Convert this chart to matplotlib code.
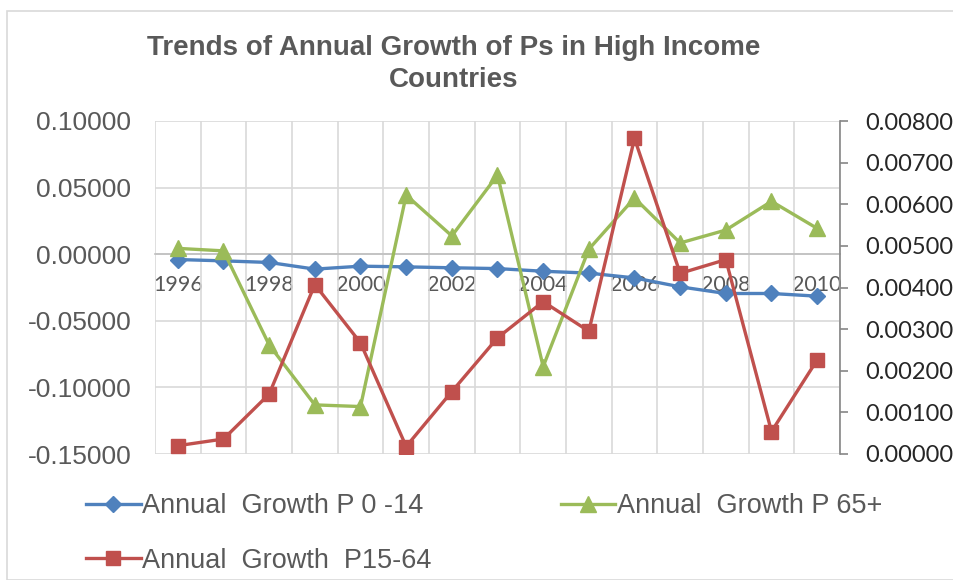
import numpy as np
import matplotlib
matplotlib.use("Agg")
import matplotlib.pyplot as plt
from matplotlib.patches import Rectangle

years = [str(y) for y in range(1996, 2011)]

# growth of ages 0-14 (primary axis)
growth_0_14 = [-0.0040, -0.0050, -0.0062, -0.0112, -0.0090, -0.0095, -0.0102, -0.0108,
               -0.0128, -0.0142, -0.0178, -0.0245, -0.0295, -0.0295, -0.0315]
# growth of ages 15-64 (secondary axis)
growth_15_64 = [0.00020, 0.00036, 0.00144, 0.00407, 0.00267, 0.00018, 0.00150, 0.00279,
                0.00366, 0.00295, 0.00758, 0.00434, 0.00467, 0.00054, 0.00226]
# growth of ages 65+ (secondary axis)
growth_65 = [0.00494, 0.00488, 0.00262, 0.00118, 0.00114, 0.00622, 0.00524, 0.00670,
             0.00210, 0.00492, 0.00615, 0.00507, 0.00538, 0.00607, 0.00542]

left_ticks = [-0.15, -0.10, -0.05, 0.0, 0.05, 0.10]
right_ticks = [0.000, 0.001, 0.002, 0.003, 0.004, 0.005, 0.006, 0.007, 0.008]

BLUE = '#4F81BD'
RED = '#C0504D'
GREEN = '#9BBB59'
TXT = '#595959'
GRID = '#D9D9D9'

W, H = 954, 580
fig = plt.figure(figsize=(W / 100, H / 100), dpi=100)

# chart frame
fig.patches.append(Rectangle((7 / W, 0), 1.0, 1 - 11 / H, transform=fig.transFigure,
                             fill=False, edgecolor=GRID, linewidth=1.2))

ax = fig.add_axes([155 / W, 1 - 454 / H, (840 - 155) / W, (454 - 121) / H])
x = np.arange(len(years))

ax.plot(x, growth_0_14, color=BLUE, lw=2.4, marker='D', ms=8, zorder=3,
        label='Annual  Growth P 0 -14')
ax.set_ylim(-0.15, 0.10)
ax.set_xlim(-0.5, len(years) - 0.5)
ax.set_yticks(left_ticks)
ax.set_yticklabels(['%.5f' % v for v in left_ticks])
ax.tick_params(axis='y', length=0, pad=17, labelsize=19, labelcolor=TXT,
               labelfontfamily='Liberation Sans')

# categories labelled every second year, grid between categories
ax.set_xticks(x[::2])
ax.set_xticklabels(years[::2])
ax.set_xticks(np.arange(-0.5, len(years)), minor=True)
ax.tick_params(axis='x', which='both', length=0, pad=15, labelsize=15.5,
               labelcolor=TXT, labelfontfamily='Lato')
ax.grid(True, which='minor', axis='x', color=GRID, lw=1.2)
ax.grid(True, which='major', axis='y', color=GRID, lw=1.2)
ax.set_axisbelow(True)

for s in ['top', 'right', 'left']:
    ax.spines[s].set_visible(False)
ax.spines['bottom'].set_position(('data', 0))
ax.spines['bottom'].set_color('#BFBFBF')
ax.spines['bottom'].set_linewidth(1.2)

ax2 = ax.twinx()
ax2.plot(x, growth_65, color=GREEN, lw=2.4, marker='^', ms=11, zorder=3,
         label='Annual  Growth P 65+')
ax2.plot(x, growth_15_64, color=RED, lw=2.4, marker='s', ms=10, zorder=4,
         label='Annual  Growth  P15-64')
ax2.set_ylim(0, 0.008)
ax2.set_yticks(right_ticks)
ax2.set_yticklabels(['%.5f' % v for v in right_ticks])
ax2.tick_params(axis='y', length=6, width=1.2, color='#868686', pad=12,
                labelsize=17, labelcolor='#262626', labelfontfamily='Lato')
for s in ['top', 'left', 'bottom']:
    ax2.spines[s].set_visible(False)
ax2.spines['right'].set_color('#868686')
ax2.spines['right'].set_linewidth(1.2)

fig.text(454 / W, 1 - 64 / H, 'Trends of Annual Growth of Ps in High Income\nCountries',
         ha='center', va='center', fontsize=20, fontweight='bold', color=TXT,
         family='Liberation Sans', linespacing=1.3)

h1, l1 = ax.get_legend_handles_labels()
h2, l2 = ax2.get_legend_handles_labels()
handles = [h1[0], h2[1], h2[0]]
labels = [l1[0], l2[1], l2[0]]
fig.legend(handles, labels, ncol=2, loc='upper left',
           bbox_to_anchor=(62 / W, 1 - 469 / H), frameon=False,
           prop={'family': 'Liberation Sans', 'size': 19.5},
           labelcolor=TXT, handlelength=2.0, handletextpad=0.05,
           columnspacing=4.8, labelspacing=1.05)

fig.savefig('out.png', dpi=100, facecolor='white')
